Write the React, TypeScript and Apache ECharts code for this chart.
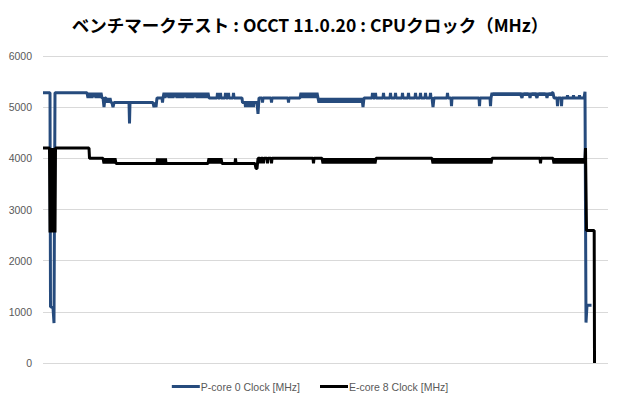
import React, { useEffect, useRef } from "react";
import * as echarts from "echarts";

const titleText = "ベンチマークテスト : OCCT 11.0.20 : CPUクロック（MHz）";
const seriesNames = ["P-core 0 Clock [MHz]", "E-core 8 Clock [MHz]"];
const yTicks = [0, 1000, 2000, 3000, 4000, 5000, 6000];
const sampleCount = 565;

// [sample, MHz]
const pCore: [number, number][] = [
  [0, 5280], [7, 5280], [7.5, 1100], [10, 1080], [11, 780], [12, 5280], [44, 5280],
  [45, 5180], [46, 5280], [47, 5180], [48, 5280], [49, 5180], [50, 5280], [51, 5200], [52, 5280],
  [53, 5180], [54, 5280], [55, 5180], [56, 5280], [57, 5180], [58, 5280], [59, 5180],
  [60, 5180], [61, 5000], [62, 5180], [63, 5180],
  [64, 5090], [65, 5180], [66, 5090], [67, 5180], [68, 5090], [69, 5090], [70, 5000], [71, 5090],
  [86, 5090], [86.5, 4680], [87, 5090],
  [110, 5090], [111, 5000], [112, 5090], [113, 5000], [114, 5180], [119, 5180], [119.5, 5090], [120, 5180],
  [121, 5280], [122, 5180], [123, 5280], [124, 5200], [125, 5280], [126, 5180], [127, 5280], [128, 5180],
  [129, 5280], [130, 5180], [131, 5280], [132, 5200], [133, 5280], [134, 5180], [135, 5280], [136, 5180],
  [137, 5280], [138, 5180], [139, 5280], [140, 5180], [141, 5280], [142, 5200], [143, 5280], [144, 5180],
  [145, 5280], [146, 5180], [147, 5280], [148, 5180], [149, 5280], [150, 5180], [151, 5280], [152, 5200],
  [153, 5280], [154, 5180], [155, 5280], [156, 5180], [157, 5280], [158, 5180], [159, 5280], [160, 5180],
  [161, 5280], [162, 5180], [163, 5280], [164, 5180], [165, 5280], [166, 5180],
  [174, 5180], [174.5, 5280], [175, 5180], [177, 5180], [177.5, 5280], [178, 5180], [182, 5180],
  [182.5, 5280], [183, 5180], [185, 5180], [185.5, 5280], [186, 5180], [190, 5180], [190.5, 5280],
  [191, 5180], [199, 5180],
  [199.5, 5090], [202, 5090], [202.5, 5000], [203, 5090], [205, 5090], [205.5, 5000], [206, 5090],
  [207, 5090], [207.5, 5000], [208, 5090], [210, 5090], [210.5, 5000], [211, 5090], [214, 5090],
  [215, 4870], [216, 5180],
  [219, 5180], [219.5, 5090], [220, 5180], [228, 5180], [228.5, 5090], [229, 5180], [245, 5180],
  [245.5, 5090], [246, 5180], [257, 5180],
  [258, 5280], [259, 5180], [260, 5280], [261, 5180], [262, 5280], [263, 5180], [264, 5280], [265, 5180],
  [266, 5280], [267, 5180], [268, 5280], [269, 5180], [270, 5280], [271, 5180], [272, 5280], [273, 5180],
  [274, 5280], [275, 5180],
  [276, 5090], [277, 5180], [278, 5090], [279, 5180], [280, 5090], [281, 5180], [282, 5090], [283, 5180],
  [284, 5090], [285, 5180], [286, 5090], [287, 5180], [288, 5090], [289, 5180], [290, 5090], [291, 5180],
  [292, 5090], [293, 5180], [294, 5090], [295, 5180], [296, 5090], [297, 5180], [298, 5090], [299, 5180],
  [300, 5090], [301, 5180], [302, 5090], [303, 5180], [304, 5090], [305, 5180], [306, 5090], [307, 5180],
  [308, 5090], [309, 5180], [310, 5090], [311, 5180], [312, 5090], [313, 5180], [314, 5090], [315, 5180],
  [316, 5090], [317, 5180], [318, 5090], [319, 5180], [320, 5000], [321, 5180],
  [329, 5180], [329.5, 5280], [330, 5180], [332, 5180], [332.5, 5280], [333, 5180], [340, 5180],
  [340.5, 5280], [341, 5180], [347, 5180], [347.5, 5280], [348, 5180], [352, 5180], [352.5, 5280],
  [353, 5180], [359, 5180], [359.5, 5280], [360, 5180], [365, 5180], [365.5, 5280], [366, 5180],
  [372, 5180], [372.5, 5280], [373, 5180], [377, 5180], [377.5, 5280], [378, 5180], [382, 5180],
  [382.5, 5280], [383, 5180], [387, 5180], [387.5, 5280], [388, 5180],
  [389, 5180], [390, 5000], [391, 5180], [404, 5180], [404.5, 5280], [405, 5180],
  [408, 5180], [408.5, 5020], [409, 5180], [436, 5180], [436.5, 5020], [437, 5180], [447, 5180],
  [447.5, 5020], [448, 5180],
  [449, 5280], [450, 5230], [451, 5280], [452, 5230], [453, 5280], [454, 5230], [455, 5280], [456, 5230],
  [457, 5280], [458, 5230], [459, 5280], [460, 5230], [461, 5280], [462, 5230], [463, 5280], [464, 5230],
  [465, 5280], [466, 5230], [467, 5280], [468, 5230], [469, 5280], [470, 5230], [471, 5280], [472, 5230],
  [473, 5280], [474, 5230], [475, 5280], [476, 5230], [477, 5280], [478, 5230], [479, 5180], [480, 5280],
  [481, 5230], [482, 5280], [483, 5230], [484, 5280], [485, 5230], [486, 5280], [487, 5180], [488, 5280],
  [489, 5230], [490, 5280], [491, 5230], [492, 5280], [493, 5230], [494, 5180], [495, 5280], [496, 5230],
  [497, 5280], [498, 5230], [499, 5280], [500, 5230], [501, 5280], [502, 5230], [503, 5280], [504, 5180],
  [505, 5280], [506, 5230], [507, 5280], [508, 5230], [509, 5280], [510, 5280],
  [511, 5180], [514, 5180], [514.5, 5020], [515, 5180], [518, 5180], [518.5, 5020], [519, 5180],
  [524, 5180], [524.5, 5230], [525, 5180], [530, 5180], [530.5, 5230], [531, 5180], [536, 5180],
  [536.5, 5230], [537, 5180], [541, 5180],
  [542, 5300], [543, 790], [544, 1130], [548.5, 1130],
];

const eCore: [number, number][] = [
  [0, 4200], [6.5, 4200], [7, 2550], [7.5, 4200], [8, 2550], [8.5, 4200], [9, 2550], [9.5, 4200],
  [10, 2550], [10.5, 4200], [11, 2550], [11.5, 4200], [12, 2550], [12.5, 4200],
  [46, 4200], [46.5, 4000], [60, 4000],
  [61, 3900], [62, 4000], [63, 3900], [64, 4000], [65, 3900], [66, 4000], [67, 3900], [68, 4000],
  [69, 3900], [70, 4000], [71, 3900], [72, 4000], [73, 3900], [74, 3900],
  [114, 3900], [114.5, 4000], [115, 3900], [117, 3900], [117.5, 4000], [118, 3900], [119, 3900],
  [119.5, 4000], [120, 3900], [122, 3900], [122.5, 4000], [123, 3900],
  [165, 3900],
  [166, 4000], [167, 3900], [168, 4000], [169, 3900], [170, 4000], [171, 3900], [172, 4000], [173, 3900],
  [174, 4000], [175, 3900], [176, 4000], [177, 3900], [178, 4000], [179, 3900],
  [192, 3900], [192.5, 4000], [193, 3900], [212, 3900], [213, 3800], [214, 3800], [215, 4000],
  [217, 4000], [217.5, 3900], [218, 4000], [220, 4000], [220.5, 3900], [221, 4000], [224, 4000],
  [224.5, 3900], [225, 4000], [228, 4000], [228.5, 3900], [229, 4000],
  [270, 4000], [270.5, 3900], [271, 4000], [279, 4000],
  [280, 3900], [281, 4000], [282, 3900], [283, 4000], [284, 3900], [285, 4000], [286, 3900], [287, 4000],
  [288, 3900], [289, 4000], [290, 3900], [291, 4000], [292, 3900], [293, 4000], [294, 3900], [295, 4000],
  [296, 3900], [297, 4000], [298, 3900], [299, 4000], [300, 3900], [301, 4000], [302, 3900], [303, 4000],
  [304, 3900], [305, 4000], [306, 3900], [307, 4000], [308, 3900], [309, 4000], [310, 3900], [311, 4000],
  [312, 3900], [313, 4000], [314, 3900], [315, 4000], [316, 3900], [317, 4000], [318, 3900], [319, 4000],
  [320, 3900], [321, 4000], [322, 3900], [323, 4000], [324, 3900], [325, 4000], [326, 3900], [327, 4000],
  [328, 3900], [329, 4000], [330, 3900], [331, 4000], [332, 3900], [333, 4000],
  [389, 4000],
  [390, 3900], [391, 4000], [392, 3900], [393, 4000], [394, 3900], [395, 4000], [396, 3900], [397, 4000],
  [398, 3900], [399, 4000], [400, 3900], [401, 4000], [402, 3900], [403, 4000], [404, 3900], [405, 4000],
  [406, 3900], [407, 4000], [408, 3900], [409, 4000], [410, 3900], [411, 4000], [412, 3900], [413, 4000],
  [414, 3900], [415, 4000], [416, 3900], [417, 4000], [418, 3900], [419, 4000], [420, 3900], [421, 4000],
  [422, 3900], [423, 4000], [424, 3900], [425, 4000], [426, 3900], [427, 4000], [428, 3900], [429, 4000],
  [430, 3900], [431, 4000], [432, 3900], [433, 4000], [434, 3900], [435, 4000], [436, 3900], [437, 4000],
  [438, 3900], [439, 4000], [440, 3900], [441, 4000], [442, 3900], [443, 4000], [444, 3900], [445, 4000],
  [446, 3900], [447, 4000], [448, 3900], [449, 4000],
  [497, 4000], [497.5, 3900], [498, 4000], [510, 4000],
  [511, 3900], [512, 4000], [513, 3900], [514, 4000], [515, 3900], [516, 4000], [517, 3900], [518, 4000],
  [519, 3900], [520, 4000], [521, 3900], [522, 4000], [523, 3900], [524, 4000], [525, 3900], [526, 4000],
  [527, 3900], [528, 4000], [529, 3900], [530, 4000], [531, 3900], [532, 4000], [533, 3900], [534, 4000],
  [535, 3900], [536, 4000], [537, 3900], [538, 4000], [539, 3900], [540, 4000], [541, 3900], [542, 4000],
  [542.5, 4200], [543.5, 2590], [551.2, 2590], [551.5, 0],
];

const colors = ["#264B7D", "#000000"];

const App: React.FC = () => {
  const chartRef = useRef<HTMLDivElement>(null);

  useEffect(() => {
    document.body.style.margin = "0";
    if (!chartRef.current) return;
    const chart = echarts.init(chartRef.current, undefined, { renderer: "svg" });

    chart.setOption({
      animation: false,
      backgroundColor: "#ffffff",
      title: {
        text: titleText,
        left: "center",
        top: 11,
        textStyle: {
          fontFamily: "Noto Sans CJK JP",
          fontSize: 17.5,
          fontWeight: "bold",
          color: "#000000",
        },
      },
      legend: {
        bottom: 13,
        left: "center",
        icon: "rect",
        itemWidth: 28,
        itemHeight: 3,
        itemGap: 20,
        textStyle: {
          fontFamily: "Liberation Sans",
          fontSize: 10.5,
          color: "#595959",
          padding: [0, 0, 0, -4],
        },
        data: seriesNames,
      },
      grid: { left: 43, right: 12, top: 56, bottom: 47 },
      xAxis: {
        type: "value",
        min: 0,
        max: sampleCount,
        axisLine: { show: false },
        axisTick: { show: false },
        axisLabel: { show: false },
        splitLine: { show: false },
      },
      yAxis: {
        type: "value",
        min: yTicks[0],
        max: yTicks[yTicks.length - 1],
        interval: 1000,
        axisLine: { show: false },
        axisTick: { show: false },
        axisLabel: {
          fontFamily: "Liberation Sans",
          fontSize: 10.5,
          color: "#595959",
          margin: 11,
          formatter: (v: number) => String(v),
        },
        splitLine: { lineStyle: { color: "#d9d9d9", width: 1 } },
      },
      series: [
        {
          name: seriesNames[0],
          type: "line",
          data: pCore,
          showSymbol: false,
          color: colors[0],
          lineStyle: { width: 3, color: colors[0] },
        },
        {
          name: seriesNames[1],
          type: "line",
          data: eCore,
          showSymbol: false,
          color: colors[1],
          lineStyle: { width: 3, color: colors[1] },
        },
      ],
    });

    return () => {
      chart.dispose();
    };
  }, []);

  return <div ref={chartRef} style={{ width: "620px", height: "410px" }} />;
};

export default App;
